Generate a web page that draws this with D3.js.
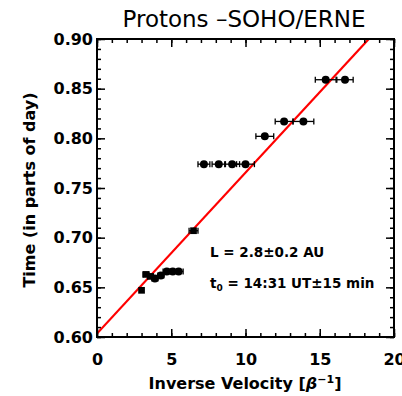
<!DOCTYPE html>
<html>
<head>
<meta charset="utf-8">
<script src="https://cdn.jsdelivr.net/npm/d3@7"></script>
<style>
  body { margin: 0; background: #fff; }
  text { font-family: "DejaVu Sans", sans-serif; fill: #000; }
</style>
</head>
<body>
<div id="chart"></div>
<script>
// data
var invVel = [3.0, 3.3, 3.6, 3.9, 4.3, 4.7, 5.1, 5.5, 6.5, 7.2, 8.2, 9.1, 10.0, 11.3, 12.6, 13.9, 15.4, 16.7];
var timeDay = [0.647, 0.663, 0.661, 0.659, 0.662, 0.666, 0.666, 0.666, 0.707, 0.774, 0.774, 0.774, 0.774, 0.802, 0.817, 0.817, 0.859, 0.859];
var velErr = [0.0, 0.2, 0.2, 0.2, 0.2, 0.25, 0.25, 0.3, 0.3, 0.4, 0.45, 0.5, 0.6, 0.6, 0.6, 0.7, 0.7, 0.55];
var isSquare = [1, 1, 1, 0, 0, 0, 0, 0, 1, 0, 0, 0, 0, 0, 0, 0, 0, 0];
var fitT0 = 0.6035, fitSlope = 0.0162;
var xTicks = [0, 5, 10, 15, 20];
var yTicks = [0.60, 0.65, 0.70, 0.75, 0.80, 0.85, 0.90];

var W = 402, H = 396;
var m = {left: 97, right: 8, top: 39, bottom: 59};

var svg = d3.select("#chart").append("svg")
    .attr("width", W).attr("height", H);

var x = d3.scaleLinear().domain([0, 20]).range([m.left, W - m.right]);
var y = d3.scaleLinear().domain([0.6, 0.9]).range([H - m.bottom, m.top]);

svg.append("clipPath").attr("id", "clip")
  .append("rect")
    .attr("x", x(0)).attr("y", y(0.9))
    .attr("width", x(20) - x(0)).attr("height", y(0.6) - y(0.9));

// fit line
svg.append("line")
    .attr("clip-path", "url(#clip)")
    .attr("x1", x(0)).attr("y1", y(fitT0))
    .attr("x2", x(20)).attr("y2", y(fitT0 + fitSlope * 20))
    .attr("stroke", "#f00").attr("stroke-width", 2.2);

// error bars
var pts = invVel.map(function(v, i) {
  return {v: v, t: timeDay[i], e: velErr[i], sq: isSquare[i]};
});
var eb = svg.append("g").attr("stroke", "#000").attr("stroke-width", 1.3);
pts.forEach(function(d) {
  if (!d.e) return;
  eb.append("line").attr("x1", x(d.v - d.e)).attr("x2", x(d.v + d.e))
    .attr("y1", y(d.t)).attr("y2", y(d.t));
  [d.v - d.e, d.v + d.e].forEach(function(c) {
    eb.append("line").attr("x1", x(c)).attr("x2", x(c))
      .attr("y1", y(d.t) - 3).attr("y2", y(d.t) + 3);
  });
});

// markers
svg.append("g").selectAll("path").data(pts).enter().append("path")
    .attr("transform", function(d) { return "translate(" + x(d.v) + "," + y(d.t) + ")"; })
    .attr("d", function(d) {
      return d3.symbol().type(d.sq ? d3.symbolSquare : d3.symbolCircle).size(d.sq ? 45 : 50)();
    })
    .attr("fill", "#000");

// axes with inward ticks on all sides
function styleAxis(g) {
  g.select(".domain").remove();
  g.selectAll(".tick line").attr("stroke", "#000").attr("stroke-width", 1.5);
  g.selectAll("text").attr("font-size", 16).attr("font-weight", "bold");
}
var xMinor = d3.range(0, 21, 1), yMinor = d3.range(0.6, 0.9001, 0.01);

svg.append("g").attr("transform", "translate(0," + y(0.6) + ")")
    .call(d3.axisBottom(x).tickValues(xMinor).tickSize(-4).tickFormat(""))
    .call(styleAxis);
svg.append("g").attr("transform", "translate(0," + y(0.6) + ")")
    .call(d3.axisBottom(x).tickValues(xTicks).tickSize(-8).tickPadding(17).tickFormat(d3.format("d")))
    .call(styleAxis);
svg.append("g").attr("transform", "translate(0," + y(0.9) + ")")
    .call(d3.axisTop(x).tickValues(xMinor).tickSize(-4).tickFormat(""))
    .call(styleAxis);
svg.append("g").attr("transform", "translate(0," + y(0.9) + ")")
    .call(d3.axisTop(x).tickValues(xTicks).tickSize(-8).tickFormat(""))
    .call(styleAxis);
svg.append("g").attr("transform", "translate(" + x(0) + ",0)")
    .call(d3.axisLeft(y).tickValues(yMinor).tickSize(-4).tickFormat(""))
    .call(styleAxis);
svg.append("g").attr("transform", "translate(" + x(0) + ",0)")
    .call(d3.axisLeft(y).tickValues(yTicks).tickSize(-8).tickPadding(4).tickFormat(d3.format(".2f")))
    .call(styleAxis);
svg.append("g").attr("transform", "translate(" + x(20) + ",0)")
    .call(d3.axisRight(y).tickValues(yMinor).tickSize(-4).tickFormat(""))
    .call(styleAxis);
svg.append("g").attr("transform", "translate(" + x(20) + ",0)")
    .call(d3.axisRight(y).tickValues(yTicks).tickSize(-8).tickFormat(""))
    .call(styleAxis);

svg.append("rect")
    .attr("x", x(0)).attr("y", y(0.9))
    .attr("width", x(20) - x(0)).attr("height", y(0.6) - y(0.9))
    .attr("fill", "none").attr("stroke", "#000").attr("stroke-width", 2);

// titles
svg.append("text").attr("x", 244).attr("y", 27).attr("text-anchor", "middle")
    .attr("font-size", 23).text("Protons \u2013SOHO/ERNE");
svg.append("text").attr("x", 245).attr("y", 389).attr("text-anchor", "middle")
    .attr("font-size", 16).attr("font-weight", "bold")
    .html("Inverse Velocity [<tspan font-style='italic'>\u03B2</tspan><tspan dy='-6' font-size='11'>\u22121</tspan><tspan dy='6'>]</tspan>");
svg.append("text").attr("transform", "translate(35,190) rotate(-90)")
    .attr("text-anchor", "middle").attr("font-size", 16).attr("font-weight", "bold")
    .text("Time (in parts of day)");

// annotations
svg.append("text").attr("x", 210).attr("y", 257).attr("font-size", 13.5).attr("font-weight", "bold")
    .text("L = 2.8\u00B10.2 AU");
svg.append("text").attr("x", 210).attr("y", 288).attr("font-size", 13.5).attr("font-weight", "bold")
    .html("t<tspan dy='3' font-size='9'>0</tspan><tspan dy='-3'> = 14:31 UT\u00B115 min</tspan>");
</script>
</body>
</html>
